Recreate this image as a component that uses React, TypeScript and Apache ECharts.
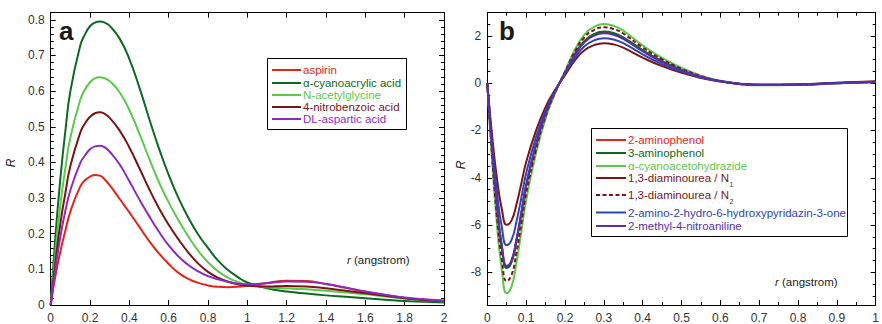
import React, { useEffect, useRef } from "react";
import * as echarts from "echarts";

// ---------- Panel a data ----------
const rA = [0, 0.025, 0.05, 0.075, 0.1, 0.15, 0.175, 0.2, 0.225, 0.25, 0.275, 0.3, 0.35, 0.4, 0.45, 0.5, 0.55, 0.6, 0.65, 0.7, 0.75, 0.8, 0.85, 0.9, 0.95, 1.0, 1.1, 1.2, 1.3, 1.4, 1.5, 1.6, 1.7, 1.8, 1.9, 2.0];
const aspirin = [0, 0.085, 0.152, 0.21, 0.262, 0.332, 0.35, 0.36, 0.365, 0.363, 0.352, 0.336, 0.298, 0.26, 0.22, 0.18, 0.145, 0.115, 0.09, 0.073, 0.062, 0.055, 0.051, 0.05, 0.051, 0.054, 0.062, 0.068, 0.067, 0.059, 0.048, 0.037, 0.028, 0.02, 0.015, 0.012];
const cyanoacrylic = [0, 0.2, 0.36, 0.49, 0.6, 0.727, 0.76, 0.782, 0.792, 0.795, 0.792, 0.783, 0.748, 0.69, 0.612, 0.524, 0.44, 0.365, 0.3, 0.245, 0.198, 0.16, 0.125, 0.099, 0.079, 0.063, 0.047, 0.038, 0.032, 0.027, 0.023, 0.019, 0.015, 0.011, 0.009, 0.007];
const acetylglycine = [0, 0.155, 0.285, 0.385, 0.47, 0.575, 0.605, 0.625, 0.636, 0.639, 0.636, 0.628, 0.597, 0.547, 0.482, 0.412, 0.345, 0.288, 0.238, 0.192, 0.152, 0.12, 0.095, 0.077, 0.065, 0.057, 0.05, 0.047, 0.044, 0.04, 0.035, 0.03, 0.024, 0.018, 0.013, 0.01];
const nitrobenzoic = [0, 0.125, 0.232, 0.315, 0.39, 0.483, 0.51, 0.528, 0.538, 0.541, 0.536, 0.525, 0.49, 0.442, 0.385, 0.326, 0.272, 0.225, 0.184, 0.147, 0.116, 0.093, 0.077, 0.066, 0.058, 0.054, 0.052, 0.053, 0.052, 0.047, 0.04, 0.033, 0.026, 0.019, 0.014, 0.011];
const aspartic = [0, 0.105, 0.195, 0.265, 0.322, 0.398, 0.42, 0.437, 0.445, 0.447, 0.442, 0.43, 0.395, 0.347, 0.297, 0.25, 0.206, 0.167, 0.136, 0.112, 0.094, 0.081, 0.072, 0.065, 0.06, 0.058, 0.061, 0.066, 0.065, 0.059, 0.049, 0.038, 0.029, 0.021, 0.016, 0.012];
const namesA = ["aspirin", "\u03b1-cyanoacrylic acid", "N-acetylglycine", "4-nitrobenzoic acid", "DL-aspartic acid"];
const seriesA = [aspirin, cyanoacrylic, acetylglycine, nitrobenzoic, aspartic];
const colorsA = ["#e2251c", "#0c6a20", "#5cc84c", "#7a1517", "#8a2cc4"];
const yTicksA = [0, 0.1, 0.2, 0.3, 0.4, 0.5, 0.6, 0.7, 0.8];
const yMinorA = [0, 0.02, 0.04, 0.06, 0.08, 0.1, 0.12, 0.14, 0.16, 0.18, 0.2, 0.22, 0.24, 0.26, 0.28, 0.3, 0.32, 0.34, 0.36, 0.38, 0.4, 0.42, 0.44, 0.46, 0.48, 0.5, 0.52, 0.54, 0.56, 0.58, 0.6, 0.62, 0.64, 0.66, 0.68, 0.7, 0.72, 0.74, 0.76, 0.78, 0.8];

// ---------- Panel b data ----------
const rB = [0, 0.0125, 0.025, 0.0375, 0.05, 0.0625, 0.075, 0.0875, 0.1, 0.125, 0.15, 0.175, 0.2, 0.225, 0.25, 0.275, 0.3, 0.325, 0.35, 0.4, 0.45, 0.5, 0.55, 0.6, 0.65, 0.7, 0.8, 0.9, 1.0];
const aminophenol2 = [0, -2.88, -5.24, -6.9, -7.76, -7.52, -6.64, -5.51, -4.33, -2.62, -1.31, -0.35, 0.43, 1.2, 1.75, 2.04, 2.14, 2.08, 1.9, 1.37, 0.92, 0.56, 0.27, 0.09, -0.03, -0.08, -0.07, 0.0, 0.05];
const aminophenol3 = [0, -2.9, -5.28, -6.95, -7.82, -7.57, -6.69, -5.54, -4.36, -2.64, -1.32, -0.35, 0.44, 1.22, 1.79, 2.08, 2.18, 2.12, 1.94, 1.4, 0.93, 0.57, 0.28, 0.09, -0.03, -0.08, -0.07, 0.0, 0.05];
const cyanoacetohydrazide = [0, -3.3, -6.0, -7.9, -8.88, -8.6, -7.6, -6.3, -4.95, -3.0, -1.5, -0.4, 0.5, 1.4, 2.05, 2.38, 2.5, 2.43, 2.22, 1.6, 1.07, 0.65, 0.32, 0.1, -0.03, -0.09, -0.08, 0.0, 0.05];
const diaminoureaN1 = [0, -2.23, -4.05, -5.33, -5.99, -5.8, -5.13, -4.25, -3.34, -2.03, -1.01, -0.27, 0.34, 0.95, 1.39, 1.61, 1.69, 1.64, 1.5, 1.08, 0.72, 0.44, 0.22, 0.07, -0.02, -0.06, -0.05, 0.02, 0.08];
const diaminoureaN2 = [0, -3.11, -5.66, -7.45, -8.37, -8.11, -7.17, -5.94, -4.67, -2.83, -1.41, -0.38, 0.47, 1.32, 1.94, 2.25, 2.36, 2.29, 2.1, 1.51, 1.01, 0.61, 0.3, 0.09, -0.03, -0.08, -0.07, 0.01, 0.06];
const pyridazinone = [0, -2.54, -4.63, -6.09, -6.85, -6.63, -5.86, -4.86, -3.82, -2.31, -1.16, -0.31, 0.38, 1.06, 1.56, 1.81, 1.9, 1.85, 1.69, 1.22, 0.81, 0.49, 0.24, 0.08, -0.02, -0.07, -0.06, 0.01, 0.06];
const nitroaniline = [0, -2.87, -5.22, -6.87, -7.73, -7.48, -6.61, -5.48, -4.31, -2.61, -1.31, -0.35, 0.42, 1.18, 1.73, 2.01, 2.11, 2.05, 1.87, 1.35, 0.9, 0.55, 0.27, 0.08, -0.03, -0.08, -0.07, 0.0, 0.05];
const namesB = ["2-aminophenol", "3-aminophenol", "\u03b1-cyanoacetohydrazide", "1,3-diaminourea / N", "1,3-diaminourea / N", "2-amino-2-hydro-6-hydroxypyridazin-3-one", "2-methyl-4-nitroaniline"];
const subsB = ["", "", "", "1", "2", "", ""];
const seriesB = [aminophenol2, aminophenol3, cyanoacetohydrazide, diaminoureaN1, diaminoureaN2, pyridazinone, nitroaniline];
const colorsB = ["#e2251c", "#0c6a20", "#5cc84c", "#7a1517", "#7a1517", "#2d45b3", "#5a2ea6"];
const dashedB = [false, false, false, false, true, false, false];
const yTicksB = [-8, -6, -4, -2, 0, 2];
const yMinorB = [-9, -8.5, -8, -7.5, -7, -6.5, -6, -5.5, -5, -4.5, -4, -3.5, -3, -2.5, -2, -1.5, -1, -0.5, 0, 0.5, 1, 1.5, 2, 2.5];

const FONT = '"Liberation Sans", Arial, Helvetica, sans-serif';
const tickColor = "#000";

function xAxesFor(grid: number, max: number, interval: number, minor: boolean) {
  const base: any = {
    gridIndex: grid,
    type: "value",
    min: 0,
    max,
    interval,
    splitLine: { show: false },
    axisLine: { show: true, onZero: false, lineStyle: { color: "#000", width: 1 } },
    axisTick: { show: true, inside: true, length: 5, lineStyle: { color: tickColor } },
    minorTick: { show: minor, splitNumber: 2, length: 3, lineStyle: { color: tickColor } },
    minorSplitLine: { show: false },
  };
  return [
    {
      ...base,
      position: "bottom",
      axisLabel: {
        fontFamily: FONT,
        fontSize: 12,
        color: "#333",
        margin: 7,
        formatter: (v: number) => `${Math.round(v * 100) / 100}`,
      },
    },
    { ...base, position: "top", axisLabel: { show: false } },
  ];
}

function yAxesFor(grid: number, min: number, max: number, majors: number[], minors: number[]) {
  const base: any = {
    gridIndex: grid,
    type: "value",
    min,
    max,
    splitLine: { show: false },
    axisLine: { show: true, onZero: false, lineStyle: { color: "#000", width: 1 } },
  };
  const major = { show: true, inside: true, length: 5, customValues: majors, lineStyle: { color: tickColor } };
  const minor = { show: true, inside: true, length: 3, customValues: minors, lineStyle: { color: tickColor } };
  return [
    {
      ...base,
      position: "left",
      axisTick: major,
      axisLabel: {
        fontFamily: FONT,
        fontSize: 12,
        color: "#333",
        margin: 6,
        customValues: majors,
        formatter: (v: number) => `${Math.round(v * 100) / 100}`,
      },
    },
    { ...base, position: "left", axisTick: minor, axisLabel: { show: false } },
    { ...base, position: "right", axisTick: major, axisLabel: { show: false } },
    { ...base, position: "right", axisTick: minor, axisLabel: { show: false } },
  ];
}

function measure(text: string, font: string): number {
  const c = document.createElement("canvas").getContext("2d");
  if (!c) return text.length * 6;
  c.font = font;
  return c.measureText(text).width;
}

function buildLegend(
  box: { x: number; y: number; w: number; h: number },
  lineX1: number,
  lineX2: number,
  textX: number,
  rows: number[],
  names: string[],
  colors: string[],
  dashed: boolean[],
  subs: string[]
) {
  const els: any[] = [
    {
      type: "rect",
      shape: { x: box.x, y: box.y, width: box.w, height: box.h },
      style: { fill: "#fff", stroke: "#000", lineWidth: 1 },
      z: 50,
    },
  ];
  const fsize = 11.5;
  names.forEach((n, i) => {
    const y = rows[i];
    els.push({
      type: "line",
      shape: { x1: lineX1, y1: y, x2: lineX2, y2: y },
      style: { stroke: colors[i], lineWidth: 2, lineDash: dashed[i] ? [4, 2.5] : null },
      z: 51,
    });
    els.push({
      type: "text",
      x: textX,
      y,
      style: { text: n, fill: colors[i], fontFamily: FONT, fontSize: fsize, align: "left", verticalAlign: "middle" },
      z: 51,
    });
    if (subs[i]) {
      const w = measure(n, `${fsize}px ${FONT}`);
      els.push({
        type: "text",
        x: textX + w + 0.5,
        y: y + 6,
        style: { text: subs[i], fill: colors[i], fontFamily: FONT, fontSize: 7, align: "left", verticalAlign: "middle" },
        z: 51,
      });
    }
  });
  return els;
}

export default function App() {
  const ref = useRef<HTMLDivElement>(null);
  useEffect(() => {
    if (!ref.current) return;
    const chart = echarts.init(ref.current, undefined, { renderer: "svg" });

    const series: any[] = [];
    seriesA.forEach((ys, i) => {
      series.push({
        type: "line",
        name: namesA[i],
        xAxisIndex: 0,
        yAxisIndex: 0,
        data: rA.map((x, k) => [x, ys[k]]),
        showSymbol: false,
        symbol: "none",
        smooth: 0.5,
        silent: true,
        lineStyle: { width: 2, color: colorsA[i] },
        itemStyle: { color: colorsA[i] },
        z: 2 + i,
      });
    });
    seriesB.forEach((ys, i) => {
      series.push({
        type: "line",
        name: namesB[i] + subsB[i],
        xAxisIndex: 2,
        yAxisIndex: 4,
        data: rB.map((x, k) => [x, ys[k]]),
        showSymbol: false,
        symbol: "none",
        smooth: 0.5,
        silent: true,
        lineStyle: { width: 2, color: colorsB[i], type: dashedB[i] ? [4, 2.5] : "solid" },
        itemStyle: { color: colorsB[i] },
        z: 2 + i,
      });
    });

    const axisTitle = (x: number, y: number) => ({
      type: "text",
      x,
      y,
      style: {
        text: "{i|r} (angstrom)",
        rich: { i: { fontStyle: "italic", fontFamily: FONT, fontSize: 11.5, fill: "#222" } },
        fill: "#222",
        fontFamily: FONT,
        fontSize: 11.5,
        align: "left",
        verticalAlign: "middle",
      },
    });

    const graphic: any[] = [
      { type: "text", x: 59, y: 31, style: { text: "a", fill: "#1a1a1a", fontFamily: FONT, fontSize: 26, fontWeight: "bold", align: "left", verticalAlign: "middle" } },
      { type: "text", x: 499, y: 31, style: { text: "b", fill: "#1a1a1a", fontFamily: FONT, fontSize: 26, fontWeight: "bold", align: "left", verticalAlign: "middle" } },
      { type: "text", x: 11, y: 163, rotation: Math.PI / 2, style: { text: "R", fill: "#222", fontFamily: FONT, fontSize: 12, fontStyle: "italic", align: "center", verticalAlign: "middle" } },
      { type: "text", x: 461, y: 165, rotation: Math.PI / 2, style: { text: "R", fill: "#222", fontFamily: FONT, fontSize: 12, fontStyle: "italic", align: "center", verticalAlign: "middle" } },
      axisTitle(347, 260),
      axisTitle(775, 282),
      ...buildLegend({ x: 267.5, y: 58.5, w: 139, h: 71 }, 272, 301, 303, [70, 83, 95, 107, 119], namesA, colorsA, [false, false, false, false, false], ["", "", "", "", ""]),
      ...buildLegend({ x: 591.5, y: 128.5, w: 256, h: 108 }, 596, 626, 628, [140, 153, 166, 178, 195, 212.5, 226], namesB, colorsB, dashedB, subsB),
    ];

    chart.setOption({
      animation: false,
      backgroundColor: "#fff",
      grid: [
        { left: 50.7, top: 12.7, width: 393.3, height: 294, show: false },
        { left: 487.3, top: 12.7, width: 393.7, height: 294, show: false },
      ],
      xAxis: [...xAxesFor(0, 2, 0.2, false), ...xAxesFor(1, 1, 0.1, true)],
      yAxis: [...yAxesFor(0, 0, 0.82, yTicksA, yMinorA), ...yAxesFor(1, -9.38, 2.98, yTicksB, yMinorB)],
      series,
      graphic,
    });
    return () => chart.dispose();
  }, []);
  return <div ref={ref} style={{ position: "absolute", left: 0, top: 0, width: 882, height: 324, background: "#fff" }} />;
}
